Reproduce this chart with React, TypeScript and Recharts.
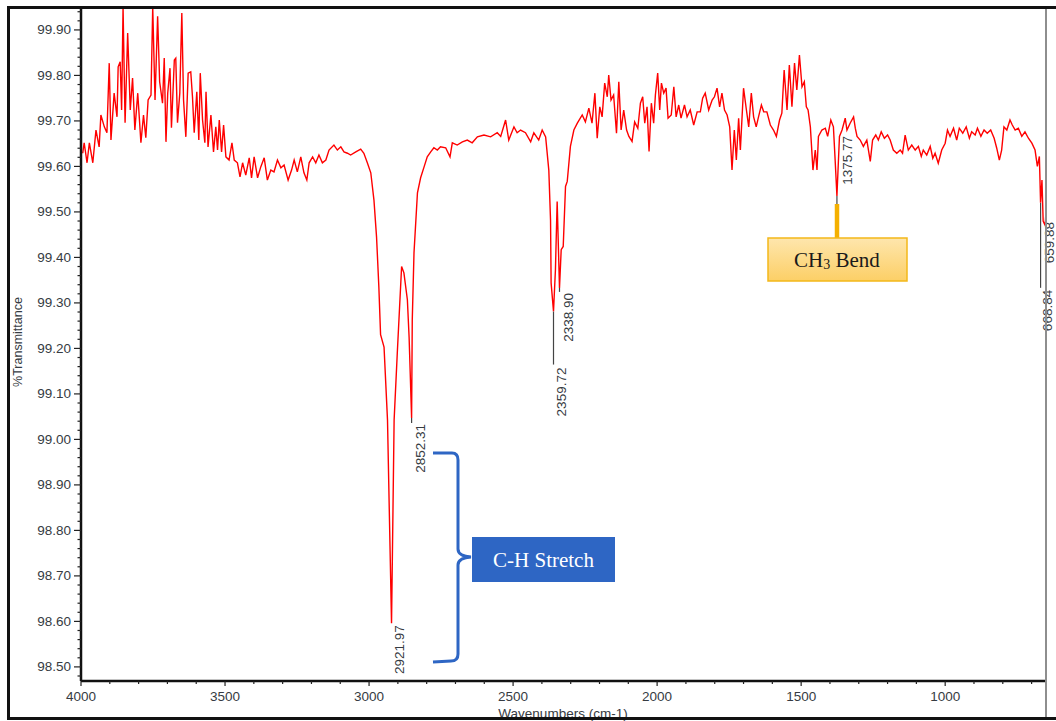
import { Line, LineChart, ReferenceDot, XAxis, YAxis } from "recharts";

// FTIR spectrum (wavenumber in cm-1, %T)
const wavenumbers = [
  3994, 3989, 3979, 3971, 3959, 3948, 3937, 3931, 3919, 3910, 3902, 3896, 3885, 3875, 3871, 3864, 3859, 3854, 3847,
  3838, 3829, 3821, 3813, 3803, 3792, 3783, 3775, 3767, 3757, 3751, 3743, 3734, 3727, 3717, 3711, 3705, 3699, 3691,
  3686, 3676, 3671, 3665, 3657, 3650, 3644, 3636, 3628, 3619, 3613, 3607, 3598, 3591, 3586, 3578, 3570, 3566, 3559,
  3549, 3540, 3532, 3526, 3520, 3512, 3505, 3497, 3486, 3476, 3468, 3457, 3448, 3439, 3428, 3416, 3408, 3399, 3387,
  3376, 3364, 3353, 3341, 3330, 3318, 3306, 3295, 3281, 3269, 3260, 3249, 3237, 3226, 3216, 3208, 3196, 3185, 3174,
  3162, 3150, 3139, 3122, 3110, 3098, 3087, 3075, 3064, 3046, 3029, 3018, 3006, 2994, 2983, 2974, 2966, 2960, 2948,
  2936, 2922, 2913, 2902, 2887, 2879, 2867, 2861, 2852.3, 2850, 2844, 2832, 2821, 2809, 2798, 2786, 2775, 2763, 2752,
  2734, 2719, 2711, 2694, 2676, 2659, 2642, 2624, 2601, 2578, 2555, 2543, 2526, 2515, 2497, 2486, 2474, 2457, 2439,
  2428, 2411, 2399, 2387, 2376, 2370, 2368, 2359.7, 2353, 2347, 2338.9, 2333, 2326, 2318, 2312, 2301, 2289, 2277,
  2260, 2249, 2237, 2226, 2216, 2208, 2199, 2191, 2182, 2173, 2168, 2160, 2151, 2141, 2133, 2125, 2116, 2106, 2098,
  2087, 2078, 2067, 2058, 2050, 2043, 2035, 2028, 2020, 2012, 2006, 1998, 1991, 1985, 1977, 1969, 1962, 1951, 1942,
  1934, 1925, 1917, 1905, 1896, 1885, 1873, 1861, 1850, 1842, 1833, 1821, 1809, 1801, 1792, 1783, 1775, 1766, 1757,
  1748, 1740, 1732, 1725, 1717, 1711, 1700, 1690, 1682, 1673, 1665, 1656, 1648, 1638, 1630, 1619, 1607, 1596, 1586,
  1575, 1567, 1559, 1549, 1541, 1532, 1523, 1515, 1506, 1497, 1489, 1482, 1476, 1468, 1459, 1451, 1445, 1440, 1428,
  1416, 1408, 1397, 1388, 1382, 1375.8, 1367, 1358, 1347, 1341, 1330, 1318, 1312, 1306, 1295, 1284, 1272, 1260, 1252,
  1241, 1232, 1222, 1211, 1200, 1191, 1180, 1168, 1156, 1148, 1139, 1128, 1116, 1104, 1093, 1083, 1076, 1064, 1052,
  1043, 1035, 1024, 1012, 1000, 992, 983, 971, 960, 951, 939, 927, 916, 908, 896, 888, 876, 865, 854, 842, 830, 821,
  812, 804, 796, 786, 775, 767, 757, 746, 734, 723, 711, 699, 688, 680, 673, 668.84, 664, 659.88, 653, 650,
];

const transmittance = [
  99.629, 99.652, 99.608, 99.652, 99.608, 99.68, 99.643, 99.713, 99.687, 99.674, 99.827, 99.658, 99.761, 99.709,
  99.819, 99.83, 99.724, 99.95, 99.696, 99.893, 99.724, 99.794, 99.68, 99.761, 99.652, 99.713, 99.663, 99.746, 99.757,
  99.95, 99.746, 99.93, 99.786, 99.739, 99.838, 99.654, 99.761, 99.816, 99.685, 99.834, 99.838, 99.696, 99.761,
  99.937, 99.746, 99.665, 99.805, 99.808, 99.753, 99.674, 99.764, 99.658, 99.805, 99.702, 99.652, 99.764, 99.643,
  99.713, 99.632, 99.687, 99.636, 99.702, 99.632, 99.691, 99.621, 99.614, 99.652, 99.614, 99.608, 99.577, 99.608,
  99.581, 99.619, 99.575, 99.621, 99.575, 99.599, 99.619, 99.57, 99.592, 99.588, 99.614, 99.597, 99.603, 99.57,
  99.592, 99.614, 99.588, 99.621, 99.586, 99.57, 99.608, 99.621, 99.608, 99.625, 99.608, 99.614, 99.636, 99.647,
  99.636, 99.643, 99.632, 99.629, 99.625, 99.632, 99.638, 99.629, 99.608, 99.586, 99.526, 99.445, 99.335, 99.23,
  99.203, 99.043, 98.596, 99.043, 99.19, 99.38, 99.366, 99.307, 99.225, 99.047, 99.263, 99.41, 99.542, 99.575, 99.599,
  99.621, 99.632, 99.641, 99.636, 99.643, 99.641, 99.621, 99.652, 99.647, 99.654, 99.658, 99.652, 99.665, 99.669,
  99.665, 99.674, 99.666, 99.702, 99.658, 99.687, 99.674, 99.68, 99.674, 99.654, 99.674, 99.658, 99.68, 99.665,
  99.592, 99.482, 99.344, 99.281, 99.373, 99.523, 99.333, 99.417, 99.424, 99.556, 99.567, 99.644, 99.68, 99.695,
  99.713, 99.698, 99.728, 99.695, 99.761, 99.662, 99.731, 99.709, 99.783, 99.753, 99.801, 99.746, 99.757, 99.673,
  99.786, 99.68, 99.724, 99.68, 99.666, 99.655, 99.698, 99.684, 99.739, 99.753, 99.695, 99.731, 99.633, 99.739,
  99.695, 99.757, 99.805, 99.724, 99.783, 99.761, 99.772, 99.706, 99.713, 99.775, 99.709, 99.735, 99.706, 99.735,
  99.709, 99.724, 99.691, 99.72, 99.72, 99.75, 99.761, 99.724, 99.746, 99.753, 99.772, 99.731, 99.761, 99.724,
  99.713, 99.687, 99.592, 99.68, 99.614, 99.706, 99.636, 99.772, 99.724, 99.687, 99.761, 99.709, 99.687, 99.709,
  99.735, 99.72, 99.72, 99.691, 99.68, 99.666, 99.702, 99.717, 99.812, 99.724, 99.823, 99.731, 99.827, 99.768,
  99.845, 99.775, 99.786, 99.731, 99.724, 99.687, 99.592, 99.636, 99.592, 99.666, 99.68, 99.684, 99.666, 99.702,
  99.687, 99.614, 99.535, 99.666, 99.68, 99.706, 99.68, 99.695, 99.709, 99.684, 99.666, 99.658, 99.644, 99.658,
  99.611, 99.658, 99.669, 99.658, 99.676, 99.662, 99.669, 99.658, 99.636, 99.629, 99.636, 99.629, 99.669, 99.636,
  99.647, 99.636, 99.644, 99.622, 99.636, 99.625, 99.644, 99.618, 99.629, 99.607, 99.636, 99.651, 99.68, 99.666,
  99.684, 99.658, 99.684, 99.673, 99.687, 99.662, 99.676, 99.669, 99.684, 99.666, 99.68, 99.673, 99.68, 99.662,
  99.64, 99.614, 99.636, 99.687, 99.68, 99.702, 99.691, 99.68, 99.684, 99.666, 99.676, 99.662, 99.651, 99.636, 99.6,
  99.622, 99.52, 99.57, 99.48, 99.47, 99.5,
];

// labelled peaks
const peakWavenumbers = [2921.97, 2852.31, 2359.72, 2338.9, 1375.77, 668.84, 659.88];
const peakTransmittance = [98.596, 99.047, 99.281, 99.333, 99.535, 99.52, 99.48];

const xMajorTicks = [4000, 3500, 3000, 2500, 2000, 1500, 1000];
const yMajorTicks = [98.5, 98.6, 98.7, 98.8, 98.9, 99.0, 99.1, 99.2, 99.3, 99.4, 99.5, 99.6, 99.7, 99.8, 99.9];

const spectrum = wavenumbers.map((w, i) => ({ w, t: transmittance[i] }));
const xTicks = Array.from({ length: 34 }, (_, i) => 700 + i * 100);
const yTicks = Array.from({ length: 74 }, (_, i) => Math.round((98.48 + i * 0.02) * 100) / 100);

// label placement next to each peak: text x shift, tick line length, text top offset
const peakLayout = [
  { dx: 8, line: 0, top: 2 },
  { dx: 8.5, line: 5, top: 6 },
  { dx: 8.5, line: 53, top: 56 },
  { dx: 9.5, line: 4, top: 5 },
  { dx: 11, line: 8, top: -60 },
  { dx: 7, line: 85, top: 87 },
  { dx: 6.5, line: 0, top: 1 },
];

const SANS = "'Liberation Sans', Arial, sans-serif";
const SERIF = "'Liberation Serif', 'Times New Roman', serif";
const TEXT = "#363b42";
const BLUE = "#2e66c4";

function YTick({ x, y, payload }: any) {
  const v = payload.value as number;
  const major = yMajorTicks.some((m) => Math.abs(m - v) < 1e-6);
  return (
    <g>
      <line x1={x - (major ? 7 : 3.5)} x2={x} y1={y} y2={y} stroke="#222" strokeWidth={1.2} />
      {major && (
        <text x={x - 10} y={y} textAnchor="end" dominantBaseline="central" fontSize={13.5} fill={TEXT} fontFamily={SANS}>
          {v.toFixed(2)}
        </text>
      )}
    </g>
  );
}

function XTick({ x, y, payload }: any) {
  const v = payload.value as number;
  const major = xMajorTicks.includes(v);
  return (
    <g>
      <line x1={x} x2={x} y1={y} y2={y + (major ? 5 : 3)} stroke="#222" strokeWidth={1.2} />
      {major && (
        <text x={x} y={y + 15} textAnchor="middle" dominantBaseline="central" fontSize={13.5} fill={TEXT} fontFamily={SANS}>
          {v}
        </text>
      )}
    </g>
  );
}

function PeakMark({ cx, cy, text, layout }: any) {
  const tx = cx + layout.dx;
  const ty = cy + layout.top;
  return (
    <g>
      {layout.line > 0 && <line x1={cx} x2={cx} y1={cy} y2={cy + layout.line} stroke="#444" strokeWidth={1.2} />}
      <text
        x={tx}
        y={ty}
        transform={`rotate(-90 ${tx} ${ty})`}
        textAnchor="end"
        dominantBaseline="central"
        fontSize={13.5}
        fill={TEXT}
        fontFamily={SANS}
      >
        {text}
      </text>
    </g>
  );
}

export default function App() {
  return (
    <div style={{ position: "absolute", left: 0, top: 0, width: 1056, height: 721, background: "#fff", overflow: "hidden" }}>
      <LineChart width={1056} height={721} data={spectrum} margin={{ top: 9, right: 10, left: 0, bottom: 0 }}>
        <XAxis
          dataKey="w"
          type="number"
          domain={[650, 4000]}
          reversed
          allowDataOverflow
          ticks={xTicks}
          interval={0}
          height={40}
          tickSize={0}
          tickMargin={0}
          tick={<XTick />}
          tickLine={false}
          axisLine={{ stroke: "#111", strokeWidth: 2.5 }}
        />
        <YAxis
          type="number"
          domain={[98.469, 99.946]}
          allowDataOverflow
          ticks={yTicks}
          interval={0}
          width={81}
          tickSize={0}
          tickMargin={0}
          tick={<YTick />}
          tickLine={false}
          axisLine={{ stroke: "#111", strokeWidth: 2.5 }}
        />
        <Line type="linear" dataKey="t" stroke="#ff0000" strokeWidth={1.4} dot={false} isAnimationActive={false} />
        {peakWavenumbers.map((w, i) => (
          <ReferenceDot
            key={w}
            x={w}
            y={peakTransmittance[i]}
            r={0}
            ifOverflow="visible"
            shape={(p: any) => <PeakMark cx={p.cx} cy={p.cy} text={w.toFixed(2)} layout={peakLayout[i]} />}
          />
        ))}
      </LineChart>

      {/* axis titles, callouts and frame */}
      <svg width={1056} height={721} style={{ position: "absolute", left: 0, top: 0, pointerEvents: "none" }}>
        <defs>
          <linearGradient id="ch3fill" x1="0" y1="0" x2="0" y2="1">
            <stop offset="0%" stopColor="#fee6ad" />
            <stop offset="100%" stopColor="#fccf66" />
          </linearGradient>
        </defs>
        <text x={18} y={342} transform="rotate(-90 18 342)" textAnchor="middle" dominantBaseline="central" fontSize={12.5} fill={TEXT} fontFamily={SANS}>
          %Transmittance
        </text>
        <text x={563} y={718} textAnchor="middle" fontSize={13.5} fill={TEXT} fontFamily={SANS}>
          Wavenumbers (cm-1)
        </text>

        <line x1={1046} x2={1046} y1={8} y2={718} stroke="#8e8e8e" strokeWidth={2} />

        <path
          d="M433 453 L452 453 Q458 453 458 460 L458 549 Q458 556 471 557 Q458 558 458 565 L458 654 Q458 661 451 661 L433 662"
          fill="none"
          stroke={BLUE}
          strokeWidth={3}
        />
        <rect x={472} y={537} width={143} height={45} fill={BLUE} />
        <text x={543.5} y={560} textAnchor="middle" dominantBaseline="central" fontSize={21} fill="#fff" fontFamily={SERIF}>
          C-H Stretch
        </text>

        <line x1={837} x2={837} y1={204} y2={238} stroke="#f4b000" strokeWidth={4.5} />
        <rect x={768} y={238} width={139} height={43} fill="url(#ch3fill)" stroke="#f3b81a" strokeWidth={1.5} />
        <text x={837} y={260} textAnchor="middle" dominantBaseline="central" fontSize={21} fill="#1a1a1a" fontFamily={SERIF}>
          CH<tspan fontSize={14} dy={4}>3</tspan>
          <tspan dy={-4}> Bend</tspan>
        </text>
      </svg>

      <div
        style={{
          position: "absolute",
          left: 7,
          top: 6,
          width: 1100,
          height: 714,
          boxSizing: "border-box",
          border: "3.5px solid #111",
          borderRight: "none",
          pointerEvents: "none",
        }}
      />
    </div>
  );
}
